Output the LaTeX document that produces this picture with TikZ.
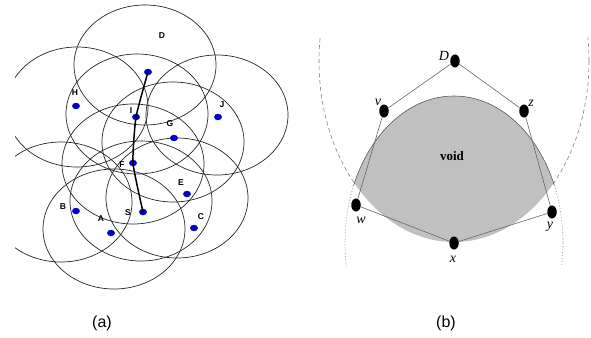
\documentclass[tikz,border=0pt]{standalone}
\usepackage{fontspec}
\setmainfont{Liberation Serif}
\setsansfont{Liberation Sans}
\usetikzlibrary{shapes.geometric}
\definecolor{dotblue}{RGB}{0,0,200}
\definecolor{voidgray}{RGB}{192,192,192}
\begin{document}
\begin{tikzpicture}[x=1pt,y=-1pt,
  rangecirc/.style={draw=black!85, line width=0.7pt},
  bdot/.style={ellipse, fill=dotblue, inner sep=0pt, minimum width=8pt, minimum height=6.5pt},
  alab/.style={font=\sffamily\bfseries\fontsize{8.5}{9}\selectfont, inner sep=0pt},
  route/.style={line width=1.5pt, draw=black},
  kdot/.style={ellipse, fill=black, inner sep=0pt, minimum width=9.5pt, minimum height=13pt},
  blab/.style={font=\itshape\fontsize{14}{14}\selectfont, inner sep=0pt},
  linkline/.style={draw=black!60, line width=0.6pt},
  caplab/.style={font=\sffamily\fontsize{16}{16}\selectfont, inner sep=0pt}
]
\useasboundingbox (0,0) rectangle (591,337);

% ---------- panel (a) ----------
\begin{scope}
  \clip (15,0) rectangle (300,300);
  \foreach \cx/\cy in {145/65, 77/107, 137/114, 217/115, 173/142, 133/164, 177/198, 141/201, 114/229, 61/202}
    \draw[rangecirc] (\cx,\cy) ellipse [x radius=71, y radius=60];
\end{scope}

\node[bdot] (dD) at (148,72) {};
\node[bdot] (dH) at (76,106) {};
\node[bdot] (dI) at (136,117) {};
\node[bdot] (dJ) at (218,117) {};
\node[bdot] (dG) at (174,138) {};
\node[bdot] (dF) at (133,163) {};
\node[bdot] (dE) at (187,194) {};
\node[bdot] (dB) at (76,211) {};
\node[bdot] (dA) at (111,233) {};
\node[bdot] (dS) at (143,212) {};
\node[bdot] (dC) at (194,228) {};

\draw[route] plot[smooth, tension=0.3] coordinates {(dD) (dI) (dF) (dS)};

\node[alab] (lD) at (162,36) {D};
\node[alab] (lH) at (75,93) {H};
\node[alab] (lI) at (131,111) {I};
\node[alab] (lJ) at (222,105) {J};
\node[alab] (lG) at (170,124) {G};
\node[alab] (lF) at (122,165) {F};
\node[alab] (lE) at (181,183) {E};
\node[alab] (lB) at (63,207) {B};
\node[alab] (lA) at (101,219) {A};
\node[alab] (lS) at (128,213) {S};
\node[alab] (lC) at (201,217) {C};

% ---------- panel (b) ----------
\begin{scope}
  \clip (454,243) ellipse [x radius=109, y radius=147];
  \fill[voidgray] (454,61) ellipse [x radius=135, y radius=181];
\end{scope}
\begin{scope}
  \clip (300,38) rectangle (591,184);
  \draw[dash pattern=on 4pt off 3pt, draw=black!50, line width=0.6pt] (454,61) ellipse [x radius=135, y radius=181];
  \draw[draw=black!65, line width=0.6pt] (454,243) ellipse [x radius=109, y radius=147];
\end{scope}
\begin{scope}
  \clip (300,184) rectangle (591,265);
  \draw[dash pattern=on 1pt off 2pt, draw=black!50, line width=0.6pt] (454,243) ellipse [x radius=109, y radius=147];
\end{scope}

\node[kdot] (bD) at (455,61) {};
\node[kdot] (bv) at (384,111) {};
\node[kdot] (bz) at (524,111) {};
\node[kdot] (bw) at (356,205) {};
\node[kdot] (by) at (552,212) {};
\node[kdot] (bx) at (454,243) {};

\draw[linkline] (bD) -- (bv);
\draw[linkline] (bD) -- (bz);
\draw[linkline] (bv) -- (bw);
\draw[linkline] (bz) -- (by);
\draw[linkline] (bw) -- (bx);
\draw[linkline] (by) -- (bx);

\node[blab] (tD) at (444,56) {D};
\node[blab] (tv) at (378,102) {v};
\node[blab] (tz) at (531,103) {z};
\node[blab] (tw) at (361,220) {w};
\node[blab] (ty) at (550,227) {y};
\node[blab] (tx) at (453,259) {x};
\node[font=\bfseries\fontsize{13}{13}\selectfont, inner sep=0pt] (tvoid) at (452,156) {void};

% ---------- captions ----------
\node[caplab] (capa) at (102,323) {(a)};
\node[caplab] (capb) at (446,323) {(b)};
\end{tikzpicture}
\end{document}
